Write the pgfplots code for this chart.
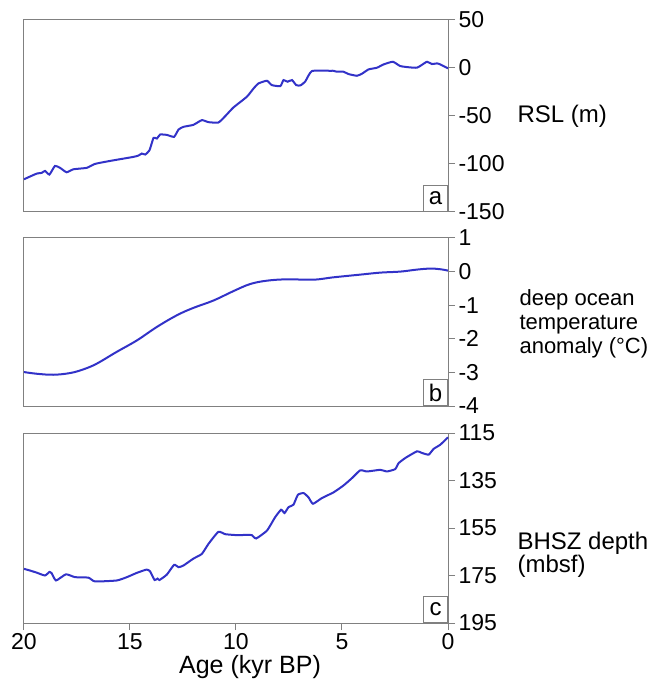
\documentclass[border=0pt]{standalone}
\usepackage{pgfplots}
\pgfplotsset{compat=1.18}
\usepackage{fontspec}
\setmainfont{Liberation Sans}
\definecolor{lineblue}{RGB}{50,50,200}
\definecolor{framegray}{RGB}{128,128,128}
\tikzset{
 lab/.style={draw=framegray, line width=0.8pt, anchor=south east, minimum width=24pt, minimum height=26pt, inner sep=0pt, font=\fontsize{24}{26}\selectfont},
 datal/.style={lineblue, line width=2pt, smooth, tension=0.3},
}
\begin{document}
\begin{tikzpicture}
\useasboundingbox (0pt,0pt) rectangle (654pt,-684pt);
\pgfplotsset{
 panel/.style={
  scale only axis, width=424pt, xmin=0, xmax=20, x dir=reverse,
  anchor=north west,
  axis line style={framegray, line width=1pt},
  every tick/.style={framegray, line width=1pt},
  tick align=outside, major tick length=7pt,
  ytick pos=right, yticklabel pos=right,
  xtick pos=bottom,
  tick label style={font=\fontsize{23}{26}\selectfont, text=black},
  clip=false,
 },
}
% Panel a
\begin{axis}[panel, at={(24pt,-20pt)}, height=192pt, ymin=-150, ymax=50,
  xtick=\empty, ytick={-150,-100,-50,0,50}, yticklabels={-150,-100,-50,0,50}]
\addplot[datal] coordinates {
(20,-115.9)(19.40,-110)(19.17,-109.3)(19.01,-107.2)(18.80,-111)(18.54,-102)(18.30,-104)
(17.99,-108.6)(17.67,-105.5)(17.04,-104)(16.65,-99.9)(15.94,-96.8)(14.84,-92.6)(14.60,-91.2)
(14.44,-89.1)(14.28,-90.1)(14.08,-85.7)(13.89,-72.8)(13.73,-73.5)(13.58,-69.3)(13.26,-69.7)
(12.92,-71.7)(12.71,-64.1)(12.48,-61.3)(12.01,-59.2)(11.61,-54.3)(11.30,-56.4)(10.83,-56.8)
(10.51,-50.2)(10.12,-41.1)(9.49,-30)(9.17,-21.3)(8.94,-16.1)(8.54,-13.3)(8.31,-17.8)(7.91,-18.9)
(7.76,-12.6)(7.57,-14.3)(7.36,-12.6)(7.16,-17.8)(6.97,-18.2)(6.74,-14.3)(6.42,-3.2)(5.55,-2.9)
(5.40,-2.9)(5.24,-3.9)(4.93,-3.9)(4.69,-6.3)(4.30,-8.1)(4.06,-6.0)(3.75,-1.5)(3.35,0.3)(3.04,3.7)
(2.60,6.5)(2.25,2.0)(1.78,0.6)(1.46,0.3)(1.27,2.7)(0.99,6.5)(0.76,4.1)(0.52,4.8)(0.36,3.7)(0,-0.4)
};
\node[lab] at (axis description cs:1,0) {a};
\end{axis}
% Panel b
\begin{axis}[panel, at={(24pt,-238pt)}, height=168pt, ymin=-4, ymax=1,
  xtick=\empty, ytick={-4,-3,-2,-1,0,1}, yticklabels={-4,-3,-2,-1,0,1}]
\addplot[datal, tension=0.6] coordinates {
(20,-2.99)(19.40,-3.04)(18.62,-3.07)(17.83,-3.02)(17.20,-2.91)(16.57,-2.74)(15.63,-2.39)
(14.68,-2.05)(13.74,-1.65)(12.79,-1.30)(12.01,-1.08)(11.06,-0.86)(10.12,-0.58)(9.33,-0.37)
(8.54,-0.27)(7.60,-0.23)(6.34,-0.24)(5.40,-0.17)(4.14,-0.09)(3.19,-0.03)(2.25,0.00)(1.46,0.06)
(0.83,0.09)(0.36,0.07)(0,0.03)
};
\node[lab] at (axis description cs:1,0) {b};
\end{axis}
% Panel c
\begin{axis}[panel, at={(24pt,-433pt)}, height=190pt, ymin=115, ymax=195, y dir=reverse,
  xtick={0,5,10,15,20}, xticklabels={0,5,10,15,20},
  ytick={115,135,155,175,195}, yticklabels={115,135,155,175,195}]
\addplot[datal] coordinates {
(20,172.2)(19.72,172.9)(19.40,173.8)(19.01,175.0)(18.80,173.5)(18.69,174.1)(18.49,177.1)
(18.02,174.5)(17.59,175.7)(16.96,175.9)(16.65,177.5)(15.63,177.1)(15.15,175.7)(14.68,173.9)
(14.21,172.5)(14.05,173.3)(13.84,176.9)(13.70,176.3)(13.61,176.9)(13.26,174.6)(12.92,170.5)
(12.71,171.5)(12.48,170.8)(12.01,167.9)(11.61,165.9)(11.30,161.7)(10.83,156.6)(10.51,157.6)
(9.96,158.0)(9.49,157.9)(9.25,158.0)(9.05,159.4)(8.54,156.1)(8.15,150.4)(7.87,147.3)(7.71,148.7)
(7.52,146.2)(7.29,145.2)(7.08,141.0)(6.81,140.3)(6.58,142.1)(6.37,144.8)(5.95,142.4)(5.40,140.0)
(4.93,137.1)(4.53,134.0)(4.14,130.7)(3.82,131.2)(3.19,130.5)(2.88,131.2)(2.49,130.2)(2.33,127.7)
(2.01,125.5)(1.46,122.7)(1.23,123.4)(0.91,124.1)(0.68,121.7)(0.36,119.9)(0,116.8)
};
\node[lab] at (axis description cs:1,0) {c};
\end{axis}
% Right-hand labels
\node[anchor=west, font=\fontsize{24}{26}\selectfont] at (514pt,-116pt) {RSL (m)};
\node[anchor=west, align=left, font=\fontsize{22}{24}\selectfont] at (516pt,-324pt) {deep ocean\\temperature\\anomaly (°C)};
\node[anchor=west, align=left, font=\fontsize{24}{23}\selectfont] at (514pt,-555pt) {BHSZ depth\\(mbsf)};
\node[font=\fontsize{25}{27}\selectfont] at (250pt,-667pt) {Age (kyr BP)};
\end{tikzpicture}
\end{document}
